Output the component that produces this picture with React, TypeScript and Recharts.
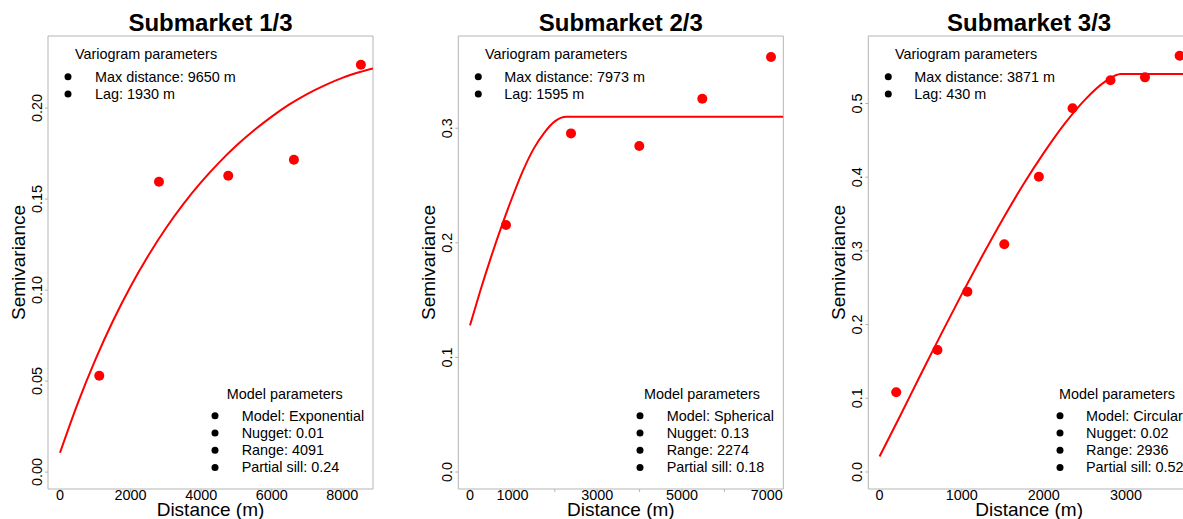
import React from "react";
import {
  ComposedChart,
  XAxis,
  YAxis,
  Line,
  Scatter,
  ReferenceArea,
} from "recharts";

// ---------- DATA ----------
// Submarket 1/3 — empirical semivariogram
const sub1LagX = [1113, 2805, 4768, 6629, 8527];
const sub1Gamma = [0.0529, 0.1595, 0.1628, 0.1716, 0.2238];
// fitted exponential model
const sub1CurveX = [0, 500, 1000, 1500, 2000, 2500, 3000, 3500, 4000, 4500, 5000, 5500, 6000, 6500, 7000, 7500, 8000, 8500, 8870];
const sub1CurveY = [0.0106, 0.0376, 0.0616, 0.083, 0.102, 0.1189, 0.134, 0.1474, 0.1593, 0.1699, 0.1794, 0.1878, 0.1953, 0.202, 0.2077, 0.2125, 0.2166, 0.2198, 0.2218];

// Submarket 2/3
const sub2LagX = [849, 2382, 3993, 5479, 7099];
const sub2Gamma = [0.2155, 0.2955, 0.2845, 0.3258, 0.3621];
const sub2CurveX = [0, 250, 500, 750, 1000, 1250, 1500, 1750, 2000, 2274, 3000, 5000, 7389];
const sub2CurveY = [0.128, 0.159, 0.188, 0.215, 0.240, 0.263, 0.282, 0.296, 0.306, 0.31, 0.31, 0.31, 0.31];

// Submarket 3/3
const sub3LagX = [203, 705, 1069, 1519, 1940, 2350, 2812, 3232, 3654];
const sub3Gamma = [0.1081, 0.1655, 0.2447, 0.309, 0.4007, 0.4935, 0.5315, 0.5355, 0.5649];
const sub3CurveX = [0, 250, 500, 750, 1000, 1250, 1500, 1750, 2000, 2250, 2500, 2750, 2936, 3300, 3780];
const sub3CurveY = [0.021, 0.076, 0.132, 0.187, 0.241, 0.293, 0.343, 0.39, 0.433, 0.472, 0.505, 0.53, 0.54, 0.54, 0.54];

// tick values
const sub1XTicks = [0, 2000, 4000, 6000, 8000];
const sub1XLabels = [0, 2000, 4000, 6000, 8000];
const sub1YTicks = [0, 0.05, 0.1, 0.15, 0.2];
const sub2XTicks = [0, 1000, 2000, 3000, 4000, 5000, 6000, 7000];
const sub2XLabels = [0, 1000, 3000, 5000, 7000];
const sub2YTicks = [0, 0.1, 0.2, 0.3];
const sub3XTicks = [0, 1000, 2000, 3000];
const sub3XLabels = [0, 1000, 2000, 3000];
const sub3YTicks = [0, 0.1, 0.2, 0.3, 0.4, 0.5];

// texts
const titles = ["Submarket 1/3", "Submarket 2/3", "Submarket 3/3"];
const variogramRows = [
  ["Max distance: 9650 m", "Lag: 1930 m"],
  ["Max distance: 7973 m", "Lag: 1595 m"],
  ["Max distance: 3871 m", "Lag: 430 m"],
];
const modelRows = [
  ["Model: Exponential", "Nugget: 0.01", "Range: 4091", "Partial sill: 0.24"],
  ["Model: Spherical", "Nugget: 0.13", "Range: 2274", "Partial sill: 0.18"],
  ["Model: Circular", "Nugget: 0.02", "Range: 2936", "Partial sill: 0.52"],
];

// ---------- helpers ----------
const zip = (xs: number[], ys: number[]) => xs.map((x, i) => ({ x, y: ys[i] }));

const FONT = "'Liberation Sans', Arial, Helvetica, sans-serif";
const GRAY = "#b5b5b5";
const RED = "#ff0000";
const H = 519;
const TOP = 36;
const XAXIS_H = 30;

type PanelCfg = {
  left: number;
  width: number;
  plotLeft: number;
  plotRight: number;
  xDomain: [number, number];
  yDomain: [number, number];
  xTicks: number[];
  xLabels: number[];
  yTicks: number[];
  yDigits: number;
  points: { x: number; y: number }[];
  curve: { x: number; y: number }[];
  varTitleX: number;
  varBulletX: number;
  varTextX: number;
  modTitleX: number;
  modBulletX: number;
  modTextX: number;
};

const panels: PanelCfg[] = [
  {
    left: 0,
    width: 400,
    plotLeft: 48,
    plotRight: 373,
    xDomain: [-340, 8870],
    yDomain: [-0.0093, 0.2396],
    xTicks: sub1XTicks,
    xLabels: sub1XLabels,
    yTicks: sub1YTicks,
    yDigits: 2,
    points: zip(sub1LagX, sub1Gamma),
    curve: zip(sub1CurveX, sub1CurveY),
    varTitleX: 75,
    varBulletX: 68,
    varTextX: 95,
    modTitleX: 226.7,
    modBulletX: 215,
    modTextX: 241.7,
  },
  {
    left: 400,
    width: 400,
    plotLeft: 58.3,
    plotRight: 383.3,
    xDomain: [-276, 7389],
    yDomain: [-0.0148, 0.3805],
    xTicks: sub2XTicks,
    xLabels: sub2XLabels,
    yTicks: sub2YTicks,
    yDigits: 1,
    points: zip(sub2LagX, sub2Gamma),
    curve: zip(sub2CurveX, sub2CurveY),
    varTitleX: 485,
    varBulletX: 478.3,
    varTextX: 504.3,
    modTitleX: 644,
    modBulletX: 640,
    modTextX: 666.7,
  },
  {
    left: 800,
    width: 400,
    plotLeft: 68.3,
    plotRight: 390,
    xDomain: [-137, 3780],
    yDomain: [-0.0231, 0.5916],
    xTicks: sub3XTicks,
    xLabels: sub3XLabels,
    yTicks: sub3YTicks,
    yDigits: 1,
    points: zip(sub3LagX, sub3Gamma),
    curve: zip(sub3CurveX, sub3CurveY),
    varTitleX: 895,
    varBulletX: 888.3,
    varTextX: 914.3,
    modTitleX: 1059,
    modBulletX: 1060,
    modTextX: 1086,
  },
];

const makeXTick = (labels: number[]) => (props: any) => {
  const { x, y, payload } = props;
  const v = payload.value;
  return (
    <g>
      <line x1={x} x2={x} y1={y} y2={y + 3} stroke={GRAY} strokeWidth={1} />
      {labels.includes(v) && (
        <text x={x} y={y + 11} textAnchor="middle" fontSize={14.4} fontFamily={FONT} fill="#000">
          {String(v)}
        </text>
      )}
    </g>
  );
};

const makeYTick = (digits: number) => (props: any) => {
  const { x, y, payload } = props;
  const v = Number(payload.value);
  return (
    <g>
      <line x1={x - 3} x2={x} y1={y} y2={y} stroke={GRAY} strokeWidth={1} />
      <text
        transform={`translate(${x - 6},${y}) rotate(-90)`}
        textAnchor="middle"
        fontSize={14.4}
        fontFamily={FONT}
        fill="#000"
      >
        {v.toFixed(digits)}
      </text>
    </g>
  );
};

const RedDot = (props: any) => {
  const { cx, cy } = props;
  if (cx == null || cy == null) return null;
  return <circle cx={cx} cy={cy} r={5} fill={RED} />;
};

function Panel({ cfg }: { cfg: PanelCfg }) {
  return (
    <div style={{ position: "absolute", left: cfg.left, top: 0, width: cfg.width, height: H }}>
      <ComposedChart
        width={cfg.width}
        height={H}
        margin={{ top: TOP, right: cfg.width - cfg.plotRight, bottom: 0, left: 0 }}
      >
        <XAxis
          dataKey="x"
          type="number"
          domain={cfg.xDomain}
          ticks={cfg.xTicks}
          interval={0}
          allowDataOverflow
          height={XAXIS_H}
          axisLine={false}
          tickLine={false}
          tickSize={0}
          tickMargin={0}
          tick={makeXTick(cfg.xLabels)}
        />
        <YAxis
          dataKey="y"
          type="number"
          domain={cfg.yDomain}
          ticks={cfg.yTicks}
          interval={0}
          allowDataOverflow
          width={cfg.plotLeft}
          axisLine={false}
          tickLine={false}
          tickSize={0}
          tickMargin={0}
          tick={makeYTick(cfg.yDigits)}
        />
        <ReferenceArea
          x1={cfg.xDomain[0]}
          x2={cfg.xDomain[1]}
          y1={cfg.yDomain[0]}
          y2={cfg.yDomain[1]}
          fill="none"
          fillOpacity={0}
          stroke={GRAY}
          strokeWidth={1}
          ifOverflow="visible"
        />
        <Line
          data={cfg.curve}
          dataKey="y"
          type="monotone"
          stroke={RED}
          strokeWidth={2}
          dot={false}
          activeDot={false}
          isAnimationActive={false}
        />
        <Scatter data={cfg.points} dataKey="y" fill={RED} shape={RedDot} isAnimationActive={false} />
      </ComposedChart>
    </div>
  );
}

function Overlay() {
  const rowGap = 17.3;
  return (
    <svg
      width={1183}
      height={H}
      style={{ position: "absolute", left: 0, top: 0, pointerEvents: "none" }}
      fontFamily={FONT}
    >
      {panels.map((p, i) => {
        const pl = p.left + p.plotLeft;
        const pr = p.left + p.plotRight;
        const cx = (pl + pr) / 2;
        const cy = (TOP + (H - XAXIS_H)) / 2;
        return (
          <g key={i}>
            <text x={cx} y={31} textAnchor="middle" fontSize={24} fontWeight="bold" fill="#000">
              {titles[i]}
            </text>
            <text x={cx} y={516} textAnchor="middle" fontSize={19} fill="#000">
              Distance (m)
            </text>
            <text
              transform={`translate(${pl - 23},${cy}) rotate(-90)`}
              textAnchor="middle"
              fontSize={19}
              fill="#000"
            >
              Semivariance
            </text>
            <text x={p.varTitleX} y={58.6} fontSize={14.4} fill="#000">
              Variogram parameters
            </text>
            {variogramRows[i].map((t, k) => (
              <g key={k}>
                <circle cx={p.varBulletX} cy={76.7 + k * rowGap} r={3.5} fill="#000" />
                <text x={p.varTextX} y={76.7 + k * rowGap + 4.8} fontSize={14.4} fill="#000">
                  {t}
                </text>
              </g>
            ))}
            <text x={p.modTitleX} y={398.6} fontSize={14.4} fill="#000">
              Model parameters
            </text>
            {modelRows[i].map((t, k) => (
              <g key={k}>
                <circle cx={p.modBulletX} cy={415.7 + k * rowGap} r={3.5} fill="#000" />
                <text x={p.modTextX} y={415.7 + k * rowGap + 4.8} fontSize={14.4} fill="#000">
                  {t}
                </text>
              </g>
            ))}
          </g>
        );
      })}
    </svg>
  );
}

export default function App() {
  return (
    <div
      style={{
        position: "absolute",
        left: 0,
        top: 0,
        width: 1183,
        height: H,
        overflow: "hidden",
        background: "#fff",
      }}
    >
      {panels.map((p, i) => (
        <Panel key={i} cfg={p} />
      ))}
      <Overlay />
    </div>
  );
}
